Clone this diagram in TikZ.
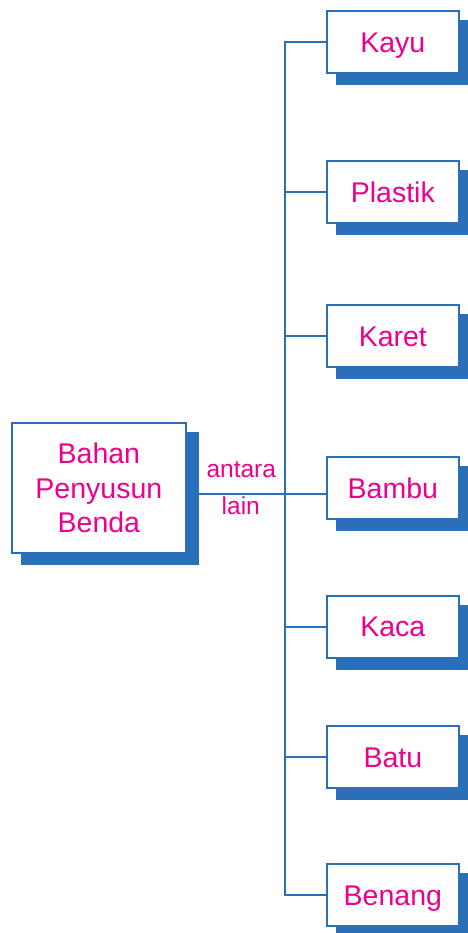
\documentclass[tikz,border=0pt]{standalone}
\usepackage{fontspec}
\setmainfont{Liberation Sans}
\usetikzlibrary{backgrounds}
\definecolor{lblue}{HTML}{2A6FB7}
\definecolor{mag}{HTML}{EC008C}
\tikzset{
  basebox/.style={draw=lblue, line width=2pt, fill=white, inner sep=0pt, text=mag,
    font=\fontsize{28.5}{34.3}\selectfont},
  box/.style={basebox, minimum width=132.3pt, minimum height=62.3pt, text height=20.4pt, text depth=0pt},
  lbox/.style={basebox, minimum width=174.3pt, minimum height=130.3pt, align=center},
  conn/.style={draw=lblue, line width=2pt},
  lbl/.style={text=mag, font=\fontsize{24.5}{29}\selectfont, inner sep=0pt},
  shadowfill/.style={fill=lblue},
}
\begin{document}
\begin{tikzpicture}[x=1pt,y=-1pt]
\useasboundingbox (0,0) rectangle (467,933);
\node[box] (kayu) at (392.85,42.35) {Kayu};
\node[box] (plastik) at (392.85,192) {Plastik};
\node[box] (karet) at (392.85,336.3) {Karet};
\node[box] (bambu) at (392.85,487.8) {Bambu};
\node[box] (kaca) at (392.85,626.7) {Kaca};
\node[box] (batu) at (392.85,757) {Batu};
\node[box] (benang) at (392.85,895) {Benang};
\node[lbox] (L) at (98.85,487.85) {Bahan\\Penyusun\\Benda};
\coordinate (T) at (285,493.7);
\node[lbl, anchor=base] (a1) at (241.3,477.7) {antara};
\node[lbl, anchor=base] (a2) at (240.8,514) {lain};
\begin{scope}[on background layer]
  \foreach \n in {kayu,plastik,karet,bambu,kaca,batu,benang,L}
    \fill[shadowfill] ([shift={(10,10)}]\n.north west) rectangle ([shift={(11.5,11)}]\n.south east);
  \draw[conn] (kayu.west) -| (T) |- (benang.west);
  \foreach \n in {plastik,karet,kaca,batu}
    \draw[conn] (T |- \n.west) -- (\n.west);
  \draw[conn] (L.east |- T) -- (bambu.west |- T);
\end{scope}
\end{tikzpicture}
\end{document}
